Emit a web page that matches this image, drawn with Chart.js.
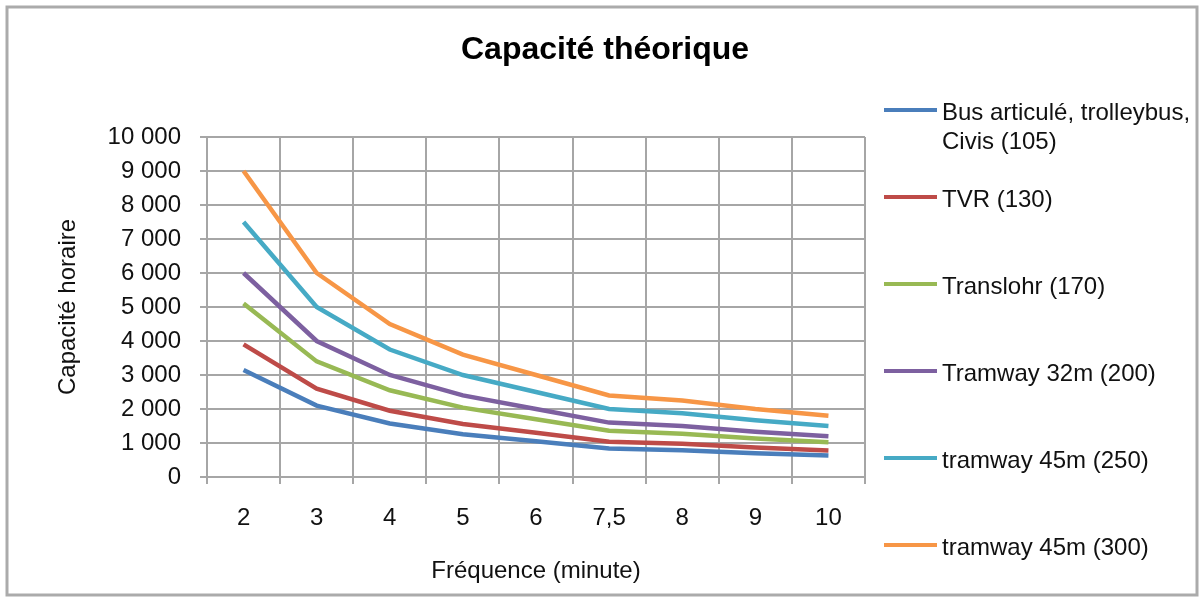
<!DOCTYPE html>
<html lang="fr">
<head>
<meta charset="utf-8">
<title>Capacité théorique</title>
<script src="https://cdn.jsdelivr.net/npm/chart.js@4"></script>
<style>
  html, body { margin: 0; padding: 0; background: #fff; }
  canvas { display: block; }
</style>
</head>
<body>
<canvas id="chart" width="1200" height="598"></canvas>
<script>
// --- DATA ---
const frequencies = ['2', '3', '4', '5', '6', '7,5', '8', '9', '10'];

const busValues       = [3150, 2100, 1575, 1260, 1050, 840, 790, 700, 630];
const tvrValues       = [3900, 2600, 1950, 1560, 1300, 1040, 975, 870, 780];
const translohrValues = [5100, 3400, 2550, 2040, 1700, 1360, 1275, 1130, 1020];
const tram32Values    = [6000, 4000, 3000, 2400, 2000, 1600, 1500, 1330, 1200];
const tram45Values    = [7500, 5000, 3750, 3000, 2500, 2000, 1875, 1670, 1500];
const tram45bValues   = [9000, 6000, 4500, 3600, 3000, 2400, 2250, 2000, 1800];

const seriesNames = [
    ['Bus articulé, trolleybus,', 'Civis (105)'],
    ['TVR (130)'],
    ['Translohr (170)'],
    ['Tramway 32m (200)'],
    ['tramway 45m (250)'],
    ['tramway 45m (300)']
];
const seriesValues = [busValues, tvrValues, translohrValues, tram32Values, tram45Values, tram45bValues];
const seriesColors = ['#4a7ebb', '#be4b48', '#98b954', '#7d60a0', '#46aac5', '#f79646'];

const yTicks = { min: 0, max: 10000, step: 1000 };

// --- STYLE ---
const gridColor = '#a6a6a6';
const textColor = '#111111';
Chart.defaults.font.family = 'Helvetica, "Liberation Sans", Arial, sans-serif';
Chart.defaults.font.size = 24;
Chart.defaults.color = textColor;

function formatThousands(v) {
    return String(v).replace(/\B(?=(\d{3})+(?!\d))/g, ' ');
}

// white background + grey frame around the whole chart
const framePlugin = {
    id: 'frame',
    beforeDraw(chart) {
        const ctx = chart.ctx;
        ctx.save();
        ctx.fillStyle = '#ffffff';
        ctx.fillRect(0, 0, chart.width, chart.height);
        ctx.strokeStyle = '#ababab';
        ctx.lineWidth = 3;
        ctx.strokeRect(7, 7, chart.width - 10, chart.height - 10);
        ctx.restore();
    }
};

// Excel-like legend on the right: evenly spaced items, wrapped first label
const sideLegendPlugin = {
    id: 'sideLegend',
    afterDraw(chart) {
        const ctx = chart.ctx;
        const area = chart.chartArea;
        const x0 = area.right + 19;
        const x1 = area.right + 72;
        const tx = area.right + 77;
        const rowGap = 87;
        const lineGap = 29;
        ctx.save();
        ctx.font = '24px ' + Chart.defaults.font.family;
        ctx.textBaseline = 'middle';
        ctx.textAlign = 'left';
        chart.data.datasets.forEach((ds, i) => {
            const y = area.top - 27 + i * rowGap;
            ctx.strokeStyle = ds.borderColor;
            ctx.lineWidth = 4;
            ctx.beginPath();
            ctx.moveTo(x0, y);
            ctx.lineTo(x1, y);
            ctx.stroke();
            ctx.fillStyle = textColor;
            seriesNames[i].forEach((line, k) => {
                ctx.fillText(line, tx, y + 3 + k * lineGap);
            });
        });
        ctx.restore();
    }
};

const datasets = seriesValues.map((values, i) => ({
    label: seriesNames[i].join(' '),
    data: values,
    borderColor: seriesColors[i],
    backgroundColor: seriesColors[i],
    borderWidth: 4.5,
    pointRadius: 0,
    tension: 0,
    fill: false,
    order: seriesValues.length - i
}));

new Chart(document.getElementById('chart'), {
    type: 'line',
    data: { labels: frequencies, datasets: datasets },
    options: {
        responsive: false,
        animation: false,
        layout: { padding: { top: 10, left: 10, right: 0, bottom: 0 } },
        plugins: {
            legend: { display: false },
            tooltip: { enabled: false },
            title: {
                display: true,
                text: 'Capacité théorique',
                color: '#000',
                font: { size: 32, weight: 'bold' },
                padding: { top: 21, bottom: 67.6 }
            }
        },
        scales: {
            x: {
                offset: true,
                grid: { offset: true, color: gridColor, lineWidth: 2, tickLength: 7 },
                border: { color: gridColor, width: 2 },
                ticks: { padding: 20, color: textColor, font: { size: 24 } },
                title: {
                    display: true,
                    text: 'Fréquence (minute)',
                    color: textColor,
                    font: { size: 24 },
                    padding: { top: 0, bottom: 12 }
                },
                afterFit(scale) { scale.height = 121; }
            },
            y: {
                min: yTicks.min,
                max: yTicks.max,
                grid: { color: gridColor, lineWidth: 2, tickLength: 7 },
                border: { color: gridColor, width: 2 },
                ticks: {
                    stepSize: yTicks.step,
                    padding: 19,
                    color: textColor,
                    font: { size: 24 },
                    callback: v => formatThousands(v)
                },
                title: {
                    display: true,
                    text: 'Capacité horaire',
                    color: textColor,
                    font: { size: 24 },
                    padding: { top: 44, bottom: 0 }
                },
                afterFit(scale) { scale.width = 197; }
            },
            // empty axis that only reserves the room used by the legend
            legendSpace: {
                type: 'linear',
                position: 'right',
                grid: { display: false },
                border: { display: false },
                ticks: { display: false },
                afterFit(scale) { scale.width = 335; }
            }
        }
    },
    plugins: [framePlugin, sideLegendPlugin]
});
</script>
</body>
</html>
